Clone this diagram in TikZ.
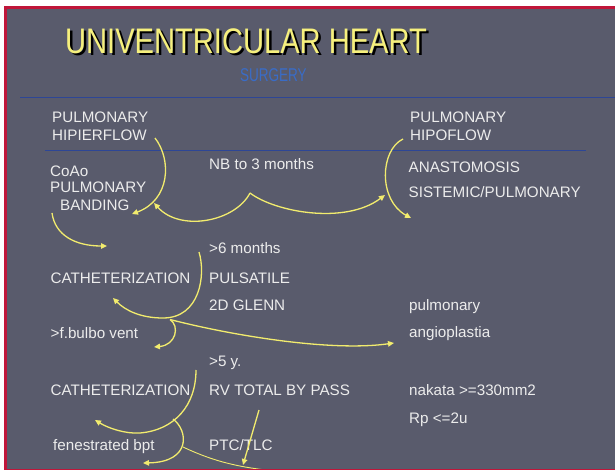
\documentclass[tikz,border=0pt]{standalone}
\usepackage{fontspec}
\setmainfont{Liberation Sans}
\usetikzlibrary{arrows.meta}
\definecolor{slate}{RGB}{89,91,108}
\definecolor{bordred}{RGB}{192,22,58}
\definecolor{blueline}{RGB}{45,70,150}
\definecolor{surgblue}{RGB}{58,108,198}
\definecolor{titleyel}{RGB}{246,240,125}
\definecolor{arrowc}{RGB}{242,236,110}
\definecolor{txtc}{RGB}{236,236,236}
\begin{document}
\begin{tikzpicture}[x=1pt,y=-1pt,
  txt/.style={anchor=base west, inner sep=0pt, text=txtc, font=\fontsize{15.2}{18}\selectfont},
  arr/.style={draw=arrowc, line width=1.3pt, -{Triangle[length=6pt,width=5.5pt]}},
  thinln/.style={draw=arrowc, line width=0.9pt},
  titlefont/.style={anchor=base west, inner sep=0pt, font=\fontsize{35.5}{40}\selectfont}]
\useasboundingbox (0,0) rectangle (615,470);
\fill[white] (0,0) rectangle (615,470);
\fill[slate] (4,6) rectangle (615,470);
% title with shadow
\node[titlefont, text=titleyel] (title) at (65,53.5) {\makebox[0pt][l]{\hspace*{2.5pt}\raisebox{-2.5pt}{\color{black}\scalebox{0.82}[1]{UNIVENTRICULAR HEART}}}\scalebox{0.82}[1]{UNIVENTRICULAR HEART}};
\node[anchor=base west, inner sep=0pt, text=surgblue, font=\fontsize{18.5}{20}\selectfont] (surg) at (240,81.7) {\scalebox{0.73}[1]{SURGERY}};
% rules
\draw[blueline, line width=1pt] (20,97.7) -- (615,97.7);
\draw[blueline, line width=1pt] (45,151) -- (586,151);
% texts
\node[txt] (hyper1) at (52,122.7) {PULMONARY};
\node[txt] (hyper2) at (52,140.7) {HIPIERFLOW};
\node[txt] (coao) at (50,177) {CoAo};
\node[txt] (pulm2) at (50,193) {PULMONARY};
\node[txt] (band) at (60,210.7) {BANDING};
\node[txt] (nb) at (209,170) {NB to 3 months};
\node[txt] (hypo1) at (410,122.7) {PULMONARY};
\node[txt] (hypo2) at (410,140.7) {HIPOFLOW};
\node[txt] (anast) at (408.5,173) {ANASTOMOSIS};
\node[txt] (sist) at (408.5,198) {SISTEMIC/PULMONARY};
\node[txt] (six) at (209,253.5) {>6 months};
\node[txt] (cath1) at (50.5,283) {CATHETERIZATION};
\node[txt] (puls) at (209,283) {PULSATILE};
\node[txt] (glenn) at (209,310) {2D GLENN};
\node[txt] (bulbo) at (50.5,338) {>f.bulbo vent};
\node[txt] (pulmr) at (409,310) {pulmonary};
\node[txt] (angio) at (409,337.5) {angioplastia};
\node[txt] (five) at (209,366.5) {>5 y.};
\node[txt] (cath2) at (50.5,395) {CATHETERIZATION};
\node[txt] (rvtot) at (209,395) {RV TOTAL BY PASS};
\node[txt] (nakata) at (409,395) {nakata >=330mm2};
\node[txt] (rp) at (409,423) {Rp <=2u};
\node[txt] (fen) at (53,450.5) {fenestrated bpt};
\node[txt] (ptc) at (209,450.5) {PTC/TLC};
% connector end points
\coordinate (a1s) at (155,138);
\coordinate (a1e) at (132,214);
\coordinate (nbfork) at (250,193);
\coordinate (a2e) at (154,203);
\coordinate (a3e) at (385,195);
\coordinate (a4s) at (403,139);
\coordinate (a4e) at (411,218);
\coordinate (a5s) at (52,213);
\coordinate (a5e) at (107,246);
\coordinate (a6s) at (199,252);
\coordinate (a6b) at (163,318);
\coordinate (a6e) at (113,298);
\coordinate (fork1) at (170,319.5);
\coordinate (a7e) at (154,347);
\coordinate (a8e) at (394,343);
\coordinate (a9s) at (196,370);
\coordinate (a9b) at (140,433);
\coordinate (a9e) at (95,420);
\coordinate (fork2) at (173,419);
\coordinate (a10e) at (143,463);
\coordinate (l11s) at (183,447);
\coordinate (l11e) at (285,472);
\coordinate (a12s) at (259,410);
\coordinate (a12e) at (243,465);
% connectors
\draw[arr] (a1s) .. controls (172,160) and (170,200) .. (a1e);
\draw[arr] (nbfork) .. controls (235,222) and (180,232) .. (a2e);
\draw[arr] (nbfork) .. controls (275,212) and (345,225) .. (a3e);
\draw[arr] (a4s) .. controls (380,150) and (378,200) .. (a4e);
\draw[arr] (a5s) .. controls (55,235) and (75,246) .. (a5e);
\draw[arr] (a6s) .. controls (206,275) and (200,318) .. (a6b) .. controls (140,318) and (125,310) .. (a6e);
\draw[arr] (fork1) .. controls (180,326) and (176,345) .. (a7e);
\draw[arr] (fork1) .. controls (230,335) and (330,352) .. (a8e);
\draw[arr] (a9s) .. controls (196,405) and (175,430) .. (a9b) .. controls (125,434) and (108,428) .. (a9e);
\draw[arr] (fork2) .. controls (188,430) and (192,462) .. (a10e);
\draw[thinln] (l11s) .. controls (215,462) and (240,468) .. (l11e);
\draw[arr] (a12s) -- (a12e);
% border
\fill[bordred] (4,6) rectangle (615,9.5);
\fill[bordred] (4,6) rectangle (7,470);
\fill[bordred] (4,468.5) rectangle (615,470);
\end{tikzpicture}
\end{document}
